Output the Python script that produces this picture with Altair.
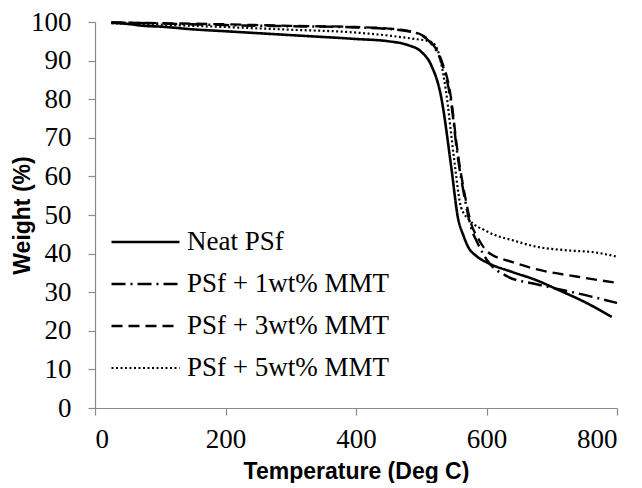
import altair as alt
import pandas as pd

series_names = ["Neat PSf", "PSf + 1wt% MMT", "PSf + 3wt% MMT", "PSf + 5wt% MMT"]

neat_t = [25, 50, 75, 100, 150, 200, 300, 400, 450, 480, 500, 515, 530, 546, 556, 565, 572, 585, 602, 640, 675, 710, 750, 792]
neat_w = [99.8, 99.5, 99.0, 98.8, 98.1, 97.6, 96.6, 95.6, 95.0, 94.0, 92.3, 88.9, 81.0, 62.4, 49.5, 44.5, 41.7, 39.3, 37.6, 35.2, 33.2, 30.6, 27.5, 23.6]

mmt1_t = [25, 100, 200, 300, 400, 450, 480, 500, 515, 530, 545, 556, 567, 576, 587, 600, 633, 670, 705, 750, 800]
mmt1_w = [99.9, 99.6, 99.2, 98.9, 98.6, 98.2, 97.6, 96.6, 94.5, 90.0, 80.0, 65.0, 54.0, 47.0, 42.5, 38.5, 34.0, 32.3, 31.0, 29.3, 27.2]

mmt3_t = [25, 100, 200, 300, 400, 450, 480, 500, 515, 530, 545, 556, 567, 576, 587, 602, 640, 683, 740, 800]
mmt3_w = [99.9, 99.7, 99.4, 99.0, 98.7, 98.3, 97.7, 96.7, 94.8, 90.5, 81.0, 66.0, 55.0, 48.0, 44.0, 40.4, 37.8, 35.7, 34.0, 32.4]

mmt5_t = [25, 100, 200, 300, 388, 464, 490, 515, 526, 530, 538, 550, 561, 575, 598, 613, 637, 679, 720, 771, 800]
mmt5_w = [99.7, 99.3, 98.7, 98.0, 97.4, 96.2, 95.6, 94.9, 92.3, 89.7, 82.0, 65.0, 52.0, 48.5, 46.0, 44.8, 43.6, 41.7, 40.9, 40.2, 39.2]

x_ticks = [0, 200, 400, 600, 800]
y_ticks = [0, 10, 20, 30, 40, 50, 60, 70, 80, 90, 100]

rows = []
for name, ts, ws in zip(series_names, [neat_t, mmt1_t, mmt3_t, mmt5_t], [neat_w, mmt1_w, mmt3_w, mmt5_w]):
    for t, w in zip(ts, ws):
        rows.append({"series": name, "temp": t, "weight": w})
df = pd.DataFrame(rows)

dashes = [[1, 0], [14, 5, 2, 5], [11, 6], [2, 2.5]]
widths = [2.6, 2.2, 2.2, 2.0]

SERIF = "Liberation Serif, 'Times New Roman', Times, serif"
SANS = "Liberation Sans, Arial, Helvetica, sans-serif"

chart = alt.Chart(df).mark_line(interpolate="monotone", color="black").encode(
    x=alt.X("temp:Q",
            scale=alt.Scale(domain=[0, 800], nice=False),
            axis=alt.Axis(values=x_ticks, title="Temperature (Deg C)",
                          titleX=261, titleY=63, titleBaseline="middle",
                          labelPadding=11)),
    y=alt.Y("weight:Q",
            scale=alt.Scale(domain=[0, 100], nice=False),
            axis=alt.Axis(values=y_ticks, title="Weight (%)",
                          titleAngle=270, titleX=-73, titleY=193,
                          titleAlign="center", titleBaseline="middle",
                          labelPadding=17)),
    strokeDash=alt.StrokeDash("series:N",
                              scale=alt.Scale(domain=series_names, range=dashes),
                              legend=alt.Legend(title=None, orient="none",
                                                legendX=15, legendY=199,
                                                symbolType="stroke", symbolSize=4624,
                                                symbolStrokeWidth=2.2, symbolStrokeColor="black",
                                                clipHeight=42, rowPadding=0, padding=0,
                                                labelOffset=6, labelFont=SERIF,
                                                labelFontSize=27, labelColor="black",
                                                labelLimit=400, labelBaseline="middle")),
    strokeWidth=alt.StrokeWidth("series:N",
                                scale=alt.Scale(domain=series_names, range=widths),
                                legend=None),
    order=alt.Order("temp:Q"),
).properties(
    width=522, height=386,
    padding={"left": 3, "top": 0, "right": 0, "bottom": 0},
).configure_view(
    stroke=None
).configure_axis(
    grid=False,
    domainColor="#898989", tickColor="#898989", domainWidth=1.2, tickWidth=1.2,
    tickSize=7,
    labelFont=SERIF, labelFontSize=27, labelColor="black",
    titleFont=SANS, titleFontSize=23, titleFontWeight="bold", titleColor="black",
)

chart.save("out.html", embed_options={"renderer": "svg", "actions": False})
